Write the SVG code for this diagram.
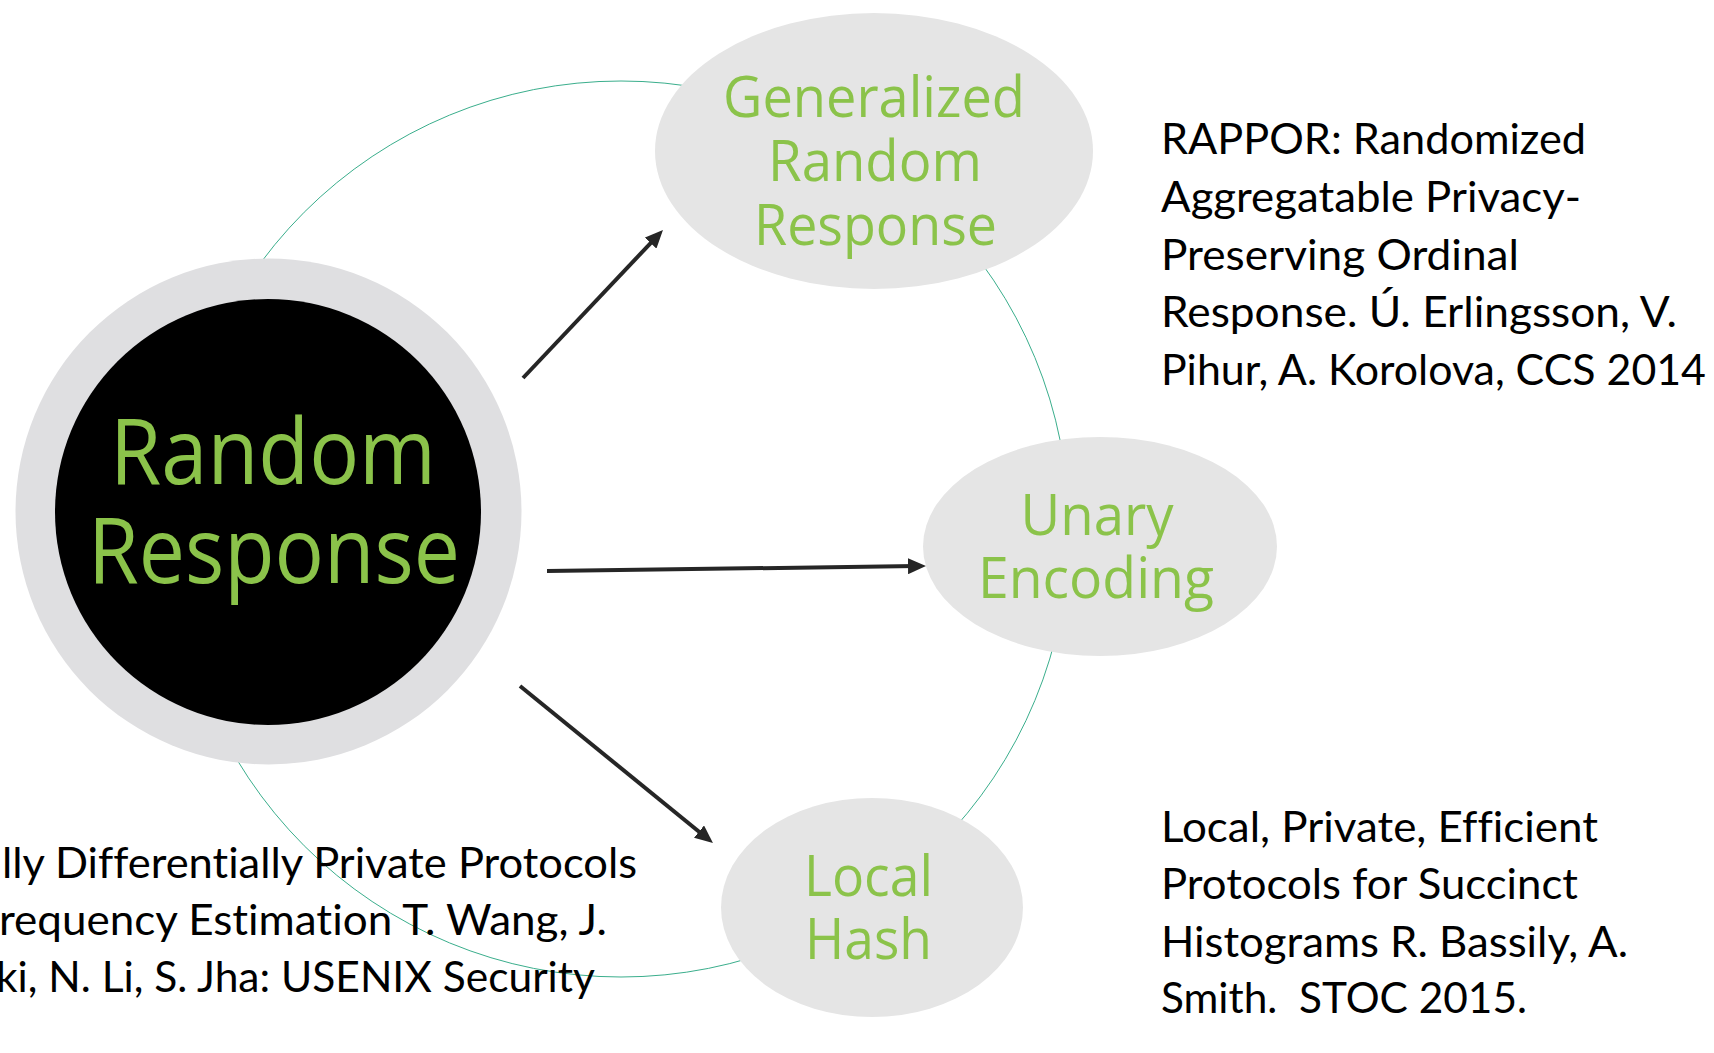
<svg xmlns="http://www.w3.org/2000/svg" width="1714" height="1053" viewBox="0 0 1714 1053">
<defs>
<style>
.green{font-family:"Open Sans","Noto Sans",sans-serif;fill:#8bc34a;text-anchor:middle}
.big{font-size:91px}
.mid{font-size:57px}
.ref{font-family:Lato,"Liberation Sans",sans-serif;font-size:42px;fill:#000;font-variant-ligatures:none;font-feature-settings:"liga" 0,"clig" 0,"dlig" 0,"calt" 0}
.oval{fill:#e5e5e5}
.arrow{stroke:#262626;stroke-width:4;fill:none;marker-end:url(#ah)}
</style>
<marker id="ah" markerUnits="userSpaceOnUse" markerWidth="18" markerHeight="16" refX="8" refY="8" orient="auto" viewBox="0 0 18 16"><path d="M0,0 L18,8 L0,16 z" fill="#262626"/></marker>
</defs>
<rect width="1714" height="1053" fill="#ffffff"/>
<g id="connectors">
<circle cx="621" cy="529" r="448" fill="none" stroke="#3aae8c" stroke-width="1"/>
<line class="arrow" x1="523" y1="378" x2="656.1" y2="237.3"/>
<line class="arrow" x1="547" y1="571" x2="916" y2="566.1"/>
<line class="arrow" x1="520" y1="686" x2="705.2" y2="836.7"/>
</g>
<g id="node-random-response">
<circle cx="268.5" cy="511.5" r="253" fill="#dfdfe1"/>
<circle cx="268" cy="512" r="213" fill="#000000"/>
<text class="green big" x="273" y="484" textLength="326" lengthAdjust="spacingAndGlyphs">Random</text>
<text class="green big" x="274" y="583" textLength="372" lengthAdjust="spacingAndGlyphs">Response</text>
</g>
<g id="node-grr">
<ellipse class="oval" cx="874" cy="151" rx="219" ry="138"/>
<text class="green mid" x="874" y="117" textLength="302" lengthAdjust="spacingAndGlyphs">Generalized</text>
<text class="green mid" x="875" y="181" textLength="214" lengthAdjust="spacingAndGlyphs">Random</text>
<text class="green mid" x="875.5" y="245" textLength="243" lengthAdjust="spacingAndGlyphs">Response</text>
</g>
<g id="node-unary">
<ellipse class="oval" cx="1100" cy="546.5" rx="177" ry="109.5"/>
<text class="green mid" x="1097" y="535" textLength="153" lengthAdjust="spacingAndGlyphs">Unary</text>
<text class="green mid" x="1096" y="598" textLength="236" lengthAdjust="spacingAndGlyphs">Encoding</text>
</g>
<g id="node-local-hash">
<ellipse class="oval" cx="872" cy="907.5" rx="151" ry="109.5"/>
<text class="green mid" x="868.5" y="896" textLength="129" lengthAdjust="spacingAndGlyphs">Local</text>
<text class="green mid" x="868.5" y="959" textLength="127" lengthAdjust="spacingAndGlyphs">Hash</text>
</g>
<g id="ref-rappor">
<text class="ref" x="1161" y="154" textLength="425" lengthAdjust="spacingAndGlyphs">RAPPOR: Randomized</text>
<text class="ref" x="1161" y="212" textLength="420" lengthAdjust="spacingAndGlyphs">Aggregatable Privacy-</text>
<text class="ref" x="1161" y="270" textLength="358" lengthAdjust="spacingAndGlyphs">Preserving Ordinal</text>
<text class="ref" x="1161" y="327" textLength="516" lengthAdjust="spacingAndGlyphs">Response. Ú. Erlingsson, V.</text>
<text class="ref" x="1161" y="385" textLength="545" lengthAdjust="spacingAndGlyphs">Pihur, A. Korolova, CCS 2014</text>
</g>
<g id="ref-bassily">
<text class="ref" x="1161" y="842" textLength="437" lengthAdjust="spacingAndGlyphs">Local, Private, Efficient</text>
<text class="ref" x="1161" y="899" textLength="417" lengthAdjust="spacingAndGlyphs">Protocols for Succinct</text>
<text class="ref" x="1161" y="957" textLength="467" lengthAdjust="spacingAndGlyphs">Histograms R. Bassily, A.</text>
<text class="ref" x="1161" y="1013" textLength="366" lengthAdjust="spacingAndGlyphs" xml:space="preserve">Smith.  STOC 2015.</text>
</g>
<g id="ref-wang">
<text class="ref" x="2" y="878" textLength="635" lengthAdjust="spacingAndGlyphs">lly Differentially Private Protocols</text>
<text class="ref" x="-1" y="935" textLength="608" lengthAdjust="spacingAndGlyphs">requency Estimation T. Wang, J.</text>
<text class="ref" x="-4" y="992" textLength="599" lengthAdjust="spacingAndGlyphs">ki, N. Li, S. Jha: USENIX Security</text>
</g>
</svg>
